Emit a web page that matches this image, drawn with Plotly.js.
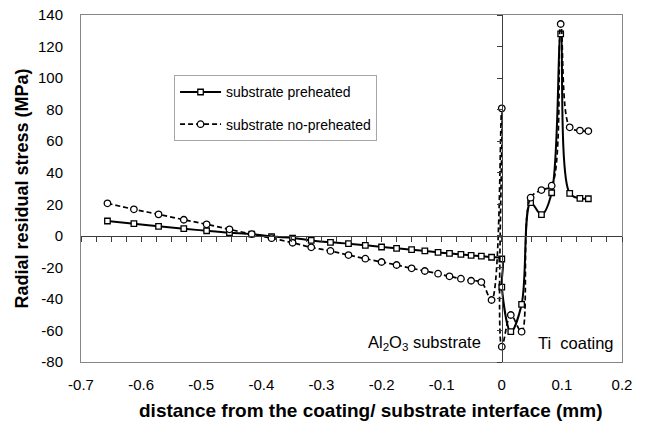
<!DOCTYPE html>
<html>
<head>
<meta charset="utf-8">
<script src="https://cdn.plot.ly/plotly-3.0.1.min.js"></script>
<style>
  html, body { margin: 0; padding: 0; background: #fff; }
  #chart { width: 647px; height: 426px; }
</style>
</head>
<body>
<div id="chart"></div>
<script>
// ---- data ----
const seriesNames = ["substrate preheated", "substrate no-preheated"];

const xPreheated = [-0.656, -0.612, -0.571, -0.529, -0.491, -0.453, -0.416, -0.383,
  -0.348, -0.317, -0.285, -0.255, -0.227, -0.200, -0.175, -0.150, -0.128, -0.106,
  -0.087, -0.068, -0.051, -0.034, -0.017, 0, 0, 0.015, 0.033, 0.048, 0.066, 0.083,
  0.098, 0.113, 0.130, 0.144];
const yPreheated = [9.4, 7.7, 6.0, 4.5, 3.2, 2.0, 1.1, -0.5,
  -1.4, -2.9, -4.1, -5.0, -6.0, -7.1, -7.9, -8.8, -9.6, -10.5,
  -11.1, -11.8, -12.4, -12.9, -13.6, -14.7, -32.5, -60.8, -43.5, 21.0, 13.4, 27.3,
  128, 26.9, 23.8, 23.5];

const xNoPreheated = [-0.656, -0.612, -0.571, -0.529, -0.491, -0.453, -0.416, -0.383,
  -0.348, -0.317, -0.285, -0.255, -0.227, -0.200, -0.175, -0.150, -0.128, -0.106,
  -0.087, -0.068, -0.051, -0.034, -0.017, 0, 0, 0.015, 0.033, 0.048, 0.066, 0.083,
  0.098, 0.113, 0.130, 0.144];
const yNoPreheated = [20.6, 16.8, 13.6, 10.2, 7.3, 4.1, 1.1, -1.5,
  -4.4, -7.3, -9.6, -12.2, -14.5, -16.6, -18.5, -20.6, -22.3, -24.0,
  -25.7, -27.2, -28.5, -29.3, -40.7, 80.8, -70.3, -50.2, -60.8, 24.2, 29.0, 31.8,
  134.3, 68.8, 66.7, 66.4];

const xTickVals = [-0.7, -0.6, -0.5, -0.4, -0.3, -0.2, -0.1, 0, 0.1, 0.2];
const xTickText = ["-0.7", "-0.6", "-0.5", "-0.4", "-0.3", "-0.2", "-0.1", "0", "0.1", "0.2"];
const yTickVals = [-80, -60, -40, -20, 0, 20, 40, 60, 80, 100, 120, 140];
const yTickText = ["-80", "-60", "-40", "-20", "0", "20", "40", "60", "80", "100", "120", "140"];

const xTitle = "distance from the coating/ substrate interface (mm)";
const yTitle = "Radial residual stress (MPa)";
const regionLabels = ["Al<sub>2</sub>O<sub>3</sub> substrate", "Ti  coating"];

// ---- chart ----
const FONT = "Arial, 'Liberation Sans', sans-serif";
const xRange = [-0.7, 0.2];
const yRange = [-80, 140];

const traces = [
  {
    x: xPreheated, y: yPreheated, name: seriesNames[0], type: "scatter",
    mode: "lines+markers", legendgroup: "a",
    line: { color: "#000", width: 2, shape: "spline", smoothing: 1 },
    marker: { symbol: "square", size: 5.5, color: "#fff", line: { color: "#000", width: 1.3 } }
  },
  {
    x: xNoPreheated, y: yNoPreheated, name: seriesNames[1], type: "scatter",
    mode: "lines+markers", legendgroup: "b",
    line: { color: "#000", width: 1.7, dash: "5px,3px", shape: "spline", smoothing: 1 },
    marker: { symbol: "circle", size: 6.5, color: "#fff", line: { color: "#000", width: 1.3 } }
  },
  {
    x: [], y: [], xaxis: "x2", yaxis: "y2", showlegend: false, hoverinfo: "skip",
    type: "scatter", mode: "markers"
  }
];

const layout = {
  width: 647, height: 426,
  margin: { l: 81, r: 25, t: 15, b: 64, pad: 0 },
  paper_bgcolor: "#fff", plot_bgcolor: "#fff",
  font: { family: FONT, color: "#000", size: 15 },
  showlegend: true,
  legend: {
    x: 0.172, y: 0.826, xanchor: "left", yanchor: "top",
    bgcolor: "#fff", bordercolor: "#a6a6a6", borderwidth: 1,
    font: { family: FONT, size: 14, color: "#000" },
    itemwidth: 41,
    traceorder: "grouped", tracegroupgap: 11
  },
  xaxis: {
    range: xRange, tickvals: xTickVals, ticktext: xTickText,
    showgrid: false, zeroline: false, ticks: "", ticklabelstandoff: 9,
    showline: true, linecolor: "#868686", linewidth: 1, mirror: true,
    tickfont: { family: FONT, size: 15, color: "#000" }
  },
  yaxis: {
    range: yRange, tickvals: yTickVals, ticktext: yTickText,
    showgrid: false, zeroline: false, ticks: "", ticklabelstandoff: 14,
    showline: true, linecolor: "#868686", linewidth: 1, mirror: true,
    tickfont: { family: FONT, size: 15, color: "#000" },
    title: { text: yTitle, font: { family: FONT, size: 18, color: "#000", weight: "bold" }, standoff: 4 }
  },
  xaxis2: {
    overlaying: "x", anchor: "free", position: (0 - yRange[0]) / (yRange[1] - yRange[0]),
    range: xRange, dtick: 0.025, tick0: -0.7, ticks: "outside", ticklen: 5, tickwidth: 1,
    tickcolor: "#3c3c3c", showticklabels: false, showgrid: false, zeroline: false,
    showline: true, linecolor: "#3c3c3c", linewidth: 1, side: "bottom"
  },
  yaxis2: {
    overlaying: "y", anchor: "free", position: (0 - xRange[0]) / (xRange[1] - xRange[0]),
    range: yRange, dtick: 20, tick0: 0, ticks: "outside", ticklen: 5, tickwidth: 1,
    tickcolor: "#3c3c3c", showticklabels: false, showgrid: false, zeroline: false,
    showline: true, linecolor: "#3c3c3c", linewidth: 1, side: "left"
  },
  annotations: [
    { x: 0.536, y: -0.141, xref: "paper", yref: "paper", text: "<b>" + xTitle + "</b>",
      showarrow: false, xanchor: "center", yanchor: "middle",
      font: { family: FONT, size: 19, color: "#000" } },
    { x: -0.032, y: -68, xref: "x", yref: "y", text: regionLabels[0], showarrow: false,
      xanchor: "right", yanchor: "middle", font: { family: FONT, size: 16.5, color: "#000" } },
    { x: 0.19, y: -68, xref: "x", yref: "y", text: regionLabels[1], showarrow: false,
      xanchor: "right", yanchor: "middle", font: { family: FONT, size: 16.5, color: "#000" } }
  ]
};

Plotly.newPlot("chart", traces, layout, { displayModeBar: false, staticPlot: true });
</script>
</body>
</html>
